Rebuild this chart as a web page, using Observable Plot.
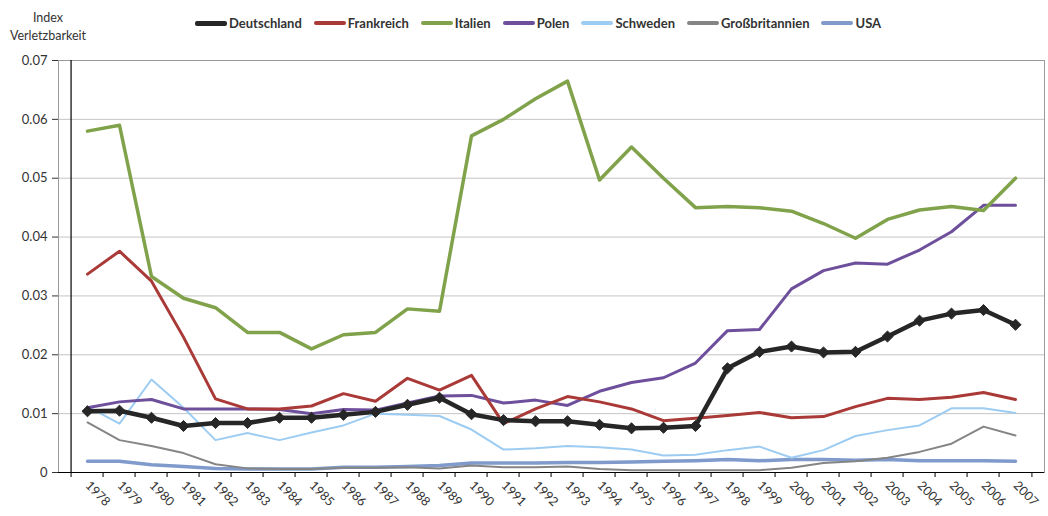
<!DOCTYPE html>
<html><head><meta charset="utf-8">
<script src="https://cdn.jsdelivr.net/npm/d3@7"></script>
<script src="https://cdn.jsdelivr.net/npm/@observablehq/plot@0.6"></script>
<style>
body{margin:0;background:#fff;font-family:Lato,"Open Sans",sans-serif;}
#wrap{width:1048px;}
#head{position:relative;height:50px;}
#title{position:absolute;left:0;width:96px;top:9px;text-align:center;font-size:12.5px;line-height:18px;color:#333;}
#legend{position:absolute;left:195px;top:15px;display:flex;gap:12px;font-size:13px;font-weight:bold;color:#333;}
.item{display:flex;align-items:center;}
.sw{width:32px;height:4px;border-radius:2px;margin-right:2px;}
</style></head><body>
<div id="wrap"><div id="head"><div id="title">Index<br>Verletzbarkeit</div><div id="legend"></div></div><div id="chart"></div></div>
<script>
const years = ["1978","1979","1980","1981","1982","1983","1984","1985","1986","1987","1988","1989","1990","1991","1992","1993","1994","1995","1996","1997","1998","1999","2000","2001","2002","2003","2004","2005","2006","2007"];
const countries = ["Deutschland","Frankreich","Italien","Polen","Schweden","Großbritannien","USA"];
const colors = ["#262626","#aa3a38","#80a24a","#6e4f9c","#9dccf2","#858585","#7f9acb"];
const widths = [4.5,3,3.5,3,2,2,3.5];
const yTicks = [0,0.01,0.02,0.03,0.04,0.05,0.06,0.07];

const deutschland = [0.0104,0.0105,0.0093,0.0079,0.0084,0.0084,0.0093,0.0093,0.0098,0.0103,0.0115,0.0127,0.0099,0.0089,0.0087,0.0087,0.0081,0.0075,0.0076,0.0079,0.0177,0.0205,0.0214,0.0204,0.0205,0.0231,0.0258,0.0270,0.0276,0.0251];
const frankreich = [0.0337,0.0376,0.0325,0.0230,0.0125,0.0108,0.0108,0.0113,0.0134,0.0121,0.0160,0.0140,0.0165,0.0083,0.0108,0.0129,0.0120,0.0108,0.0088,0.0092,0.0097,0.0102,0.0093,0.0095,0.0112,0.0126,0.0124,0.0128,0.0136,0.0124];
const italien = [0.0580,0.0590,0.0333,0.0296,0.0280,0.0238,0.0238,0.0210,0.0234,0.0238,0.0278,0.0274,0.0572,0.0600,0.0635,0.0665,0.0497,0.0553,0.0500,0.0450,0.0452,0.0450,0.0444,0.0423,0.0398,0.0430,0.0446,0.0452,0.0445,0.0500];
const polen = [0.0110,0.0120,0.0124,0.0108,0.0108,0.0108,0.0107,0.0100,0.0107,0.0106,0.0118,0.0130,0.0131,0.0118,0.0123,0.0114,0.0138,0.0153,0.0161,0.0186,0.0241,0.0243,0.0312,0.0343,0.0356,0.0354,0.0378,0.0409,0.0454,0.0454];
const schweden = [0.0112,0.0083,0.0158,0.0110,0.0055,0.0067,0.0055,0.0068,0.0080,0.0100,0.0098,0.0096,0.0073,0.0039,0.0041,0.0045,0.0043,0.0039,0.0029,0.0030,0.0038,0.0044,0.0025,0.0038,0.0062,0.0072,0.0080,0.0109,0.0109,0.0101];
const grossbritannien = [0.0085,0.0055,0.0045,0.0033,0.0014,0.0007,0.0006,0.0006,0.0008,0.0008,0.0009,0.0007,0.0012,0.0009,0.0009,0.0010,0.0006,0.0004,0.0004,0.0004,0.0004,0.0004,0.0008,0.0016,0.0019,0.0025,0.0035,0.0049,0.0078,0.0063];
const usa = [0.0019,0.0019,0.0013,0.0010,0.0007,0.0006,0.0006,0.0006,0.0009,0.0009,0.0010,0.0012,0.0016,0.0016,0.0016,0.0017,0.0017,0.0018,0.0019,0.0020,0.0022,0.0020,0.0022,0.0022,0.0021,0.0022,0.0020,0.0020,0.0020,0.0019];

const series = [deutschland,frankreich,italien,polen,schweden,grossbritannien,usa];
const table = series.map((vals,i)=>vals.map((v,j)=>({country:countries[i],year:years[j],value:v})));

// legend
const leg = document.getElementById("legend");
countries.forEach((c,i)=>{
  const it = document.createElement("div"); it.className="item";
  const sw = document.createElement("div"); sw.className="sw"; sw.style.background=colors[i];
  if (i === 0) sw.style.height = "5px";
  const t = document.createElement("span"); t.textContent=c;
  it.appendChild(sw); it.appendChild(t); leg.appendChild(it);
});

const W=1048, ML=58, MR=4;
const step = (W-ML-MR)/years.length;
const drawOrder = [6,5,4,3,2,1,0];

const chart = Plot.plot({
  width: W, height: 466,
  marginTop: 10, marginBottom: 44, marginLeft: ML, marginRight: MR,
  style: {fontFamily: "Lato, 'Open Sans', sans-serif", fontSize: "12px", color: "#333", background: "#fff"},
  x: {type: "point", domain: years, padding: 0.5},
  y: {domain: [0, 0.07]},
  marks: [
    Plot.gridY(yTicks, {stroke: "#c4c4c4", strokeOpacity: 1}),
    Plot.frame({stroke: "#9a9a9a"}),
    Plot.axisY(yTicks, {tickFormat: d => d === 0 ? "0" : d.toFixed(2), tickSize: 6, tickPadding: 5, label: null, fontSize: 13}),
    Plot.axisX({tickSize: 0, tickRotate: 45, tickPadding: 11, label: null, fontSize: 12.5}),
    Plot.axisX({tickSize: 5, dx: -step/2, text: null, label: null, stroke: "#000"}),
    Plot.axisX([years[years.length-1]], {tickSize: 5, dx: step/2, text: null, label: null, stroke: "#000"}),
    Plot.ruleX([years[0]], {dx: -step/2, stroke: "#000", strokeWidth: 1.2}),
    Plot.ruleY([0], {stroke: "#000", strokeWidth: 1.2}),
    ...drawOrder.map(i => Plot.line(table[i], {x: "year", y: "value", stroke: colors[i], strokeWidth: widths[i], strokeLinejoin: "round", strokeLinecap: "round"})),
    Plot.dot(table[0], {x: "year", y: "value", symbol: "diamond2", r: 5, fill: colors[0], stroke: colors[0], strokeWidth: 1})
  ]
});
document.getElementById("chart").appendChild(chart);
</script>
</body></html>
